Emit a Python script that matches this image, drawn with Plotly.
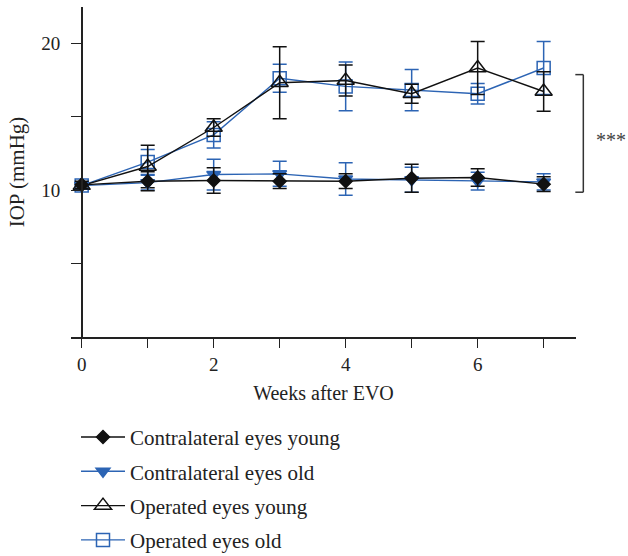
import plotly.graph_objects as go

# Weeks after episcleral vein occlusion (EVO)
weeks = [0, 1, 2, 3, 4, 5, 6, 7]

# Mean IOP (mmHg) and SEM per group
contra_young = [10.35, 10.6, 10.65, 10.6, 10.6, 10.8, 10.85, 10.4]
contra_young_se = [0.25, 0.65, 0.87, 0.5, 0.5, 0.95, 0.6, 0.5]

contra_old = [10.3, 10.5, 11.05, 11.1, 10.75, 10.7, 10.6, 10.55]
contra_old_se = [0.2, 0.5, 1.05, 0.85, 1.1, 0.85, 0.6, 0.55]

op_young = [10.3, 11.6, 14.25, 17.3, 17.45, 16.55, 18.3, 16.7]
op_young_se = [0.2, 1.45, 0.6, 2.45, 1.05, 0.65, 1.8, 1.35]

op_old = [10.3, 11.9, 13.75, 17.6, 17.05, 16.8, 16.55, 18.3]
op_old_se = [0.2, 0.85, 0.9, 0.95, 1.65, 1.4, 0.7, 1.8]

x_tick_vals = [0, 1, 2, 3, 4, 5, 6, 7]
x_tick_text = ["0", "", "2", "", "4", "", "6", ""]
y_tick_vals = [5, 10, 15, 20]
y_tick_text = ["", "10", "", "20"]

# Significance bracket spans the two group clusters (mmHg)
bracket_low, bracket_high = 9.85, 17.85

BLACK = "#111111"
BLUE = "#2c64b4"
FONT = "Liberation Serif"
X_RANGE = [-0.162, 7.49]
Y_RANGE = [0, 22.45]

fig = go.Figure()


def add_series(name, y, se, color, symbol, size, rank, fill=None):
    fig.add_trace(go.Scatter(
        x=weeks, y=y, name=name, mode="lines+markers",
        line=dict(color=color, width=1.4),
        marker=dict(symbol=symbol, size=size,
                    color=fill if fill else color,
                    line=dict(color=color, width=1.5)),
        error_y=dict(type="data", array=se, visible=True,
                     color=color, thickness=1.5, width=7),
        legendrank=rank, legendgroup=name, cliponaxis=False,
    ))


# drawn back to front
add_series("Operated eyes old", op_old, op_old_se, BLUE, "square-open", 13, 4)
add_series("Operated eyes young", op_young, op_young_se, BLACK, "triangle-up-open", 15, 3)
add_series("Contralateral eyes old", contra_old, contra_old_se, BLUE, "triangle-down", 12, 2)
add_series("Contralateral eyes young", contra_young, contra_young_se, BLACK, "diamond", 10, 1)

ML, MR, MT, MB = 71, 52, 7, 219
W, H = 628, 556
plot_w = W - ML - MR
y_axis_pos = (0 - X_RANGE[0]) / (X_RANGE[1] - X_RANGE[0])


def ypaper(v):
    return (v - Y_RANGE[0]) / (Y_RANGE[1] - Y_RANGE[0])


bx = 1.0145
btick = 8 / plot_w
bracket_shapes = [
    dict(type="line", xref="paper", yref="paper", x0=bx, x1=bx,
         y0=ypaper(bracket_low), y1=ypaper(bracket_high),
         line=dict(color="#333333", width=1.5)),
    dict(type="line", xref="paper", yref="paper", x0=bx - btick, x1=bx,
         y0=ypaper(bracket_low), y1=ypaper(bracket_low),
         line=dict(color="#333333", width=1.5)),
    dict(type="line", xref="paper", yref="paper", x0=bx - btick, x1=bx,
         y0=ypaper(bracket_high), y1=ypaper(bracket_high),
         line=dict(color="#333333", width=1.5)),
]

fig.update_layout(
    width=W, height=H,
    margin=dict(l=ML, r=MR, t=MT, b=MB, autoexpand=False),
    paper_bgcolor="white", plot_bgcolor="white",
    font=dict(family=FONT, color="#222222", size=19),
    showlegend=True,
    legend=dict(
        x=5 / plot_w, xanchor="left", y=-0.242, yanchor="top",
        font=dict(family=FONT, size=21, color="#222222"),
        bgcolor="rgba(0,0,0,0)", tracegroupgap=4,
        traceorder="grouped", itemwidth=44,
    ),
    xaxis=dict(
        range=X_RANGE, tickvals=x_tick_vals, ticktext=x_tick_text,
        showgrid=False, zeroline=False, showline=True,
        linecolor="#222222", linewidth=1.5,
        ticks="outside", ticklen=9, tickwidth=1.3, tickcolor="#222222",
        tickfont=dict(family=FONT, size=19),
        title=dict(text="Weeks after EVO", font=dict(family=FONT, size=20), standoff=12),
    ),
    yaxis=dict(
        range=Y_RANGE, tickvals=y_tick_vals, ticktext=y_tick_text,
        anchor="free", position=y_axis_pos,
        showgrid=False, zeroline=False, showline=True,
        linecolor="#222222", linewidth=1.5,
        ticks="outside", ticklen=10, tickwidth=1.3, tickcolor="#222222",
        tickfont=dict(family=FONT, size=19), ticklabelstandoff=7,
        title=dict(text="IOP (mmHg)", font=dict(family=FONT, size=21), standoff=10),
    ),
    shapes=bracket_shapes,
    annotations=[dict(
        text="***", xref="paper", yref="paper",
        x=1.069, y=ypaper(13.4), xanchor="center", yanchor="middle",
        showarrow=False, font=dict(family=FONT, size=20, color="#444444"),
    )],
)

fig.write_html("out.html")
